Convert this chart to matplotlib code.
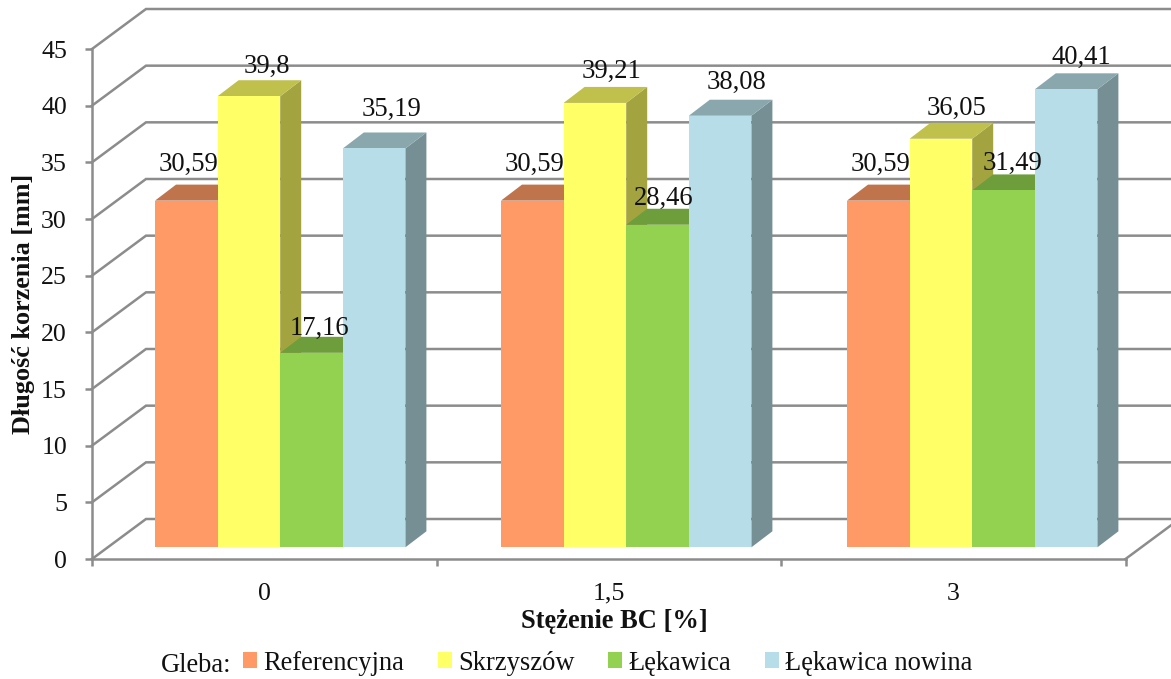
import matplotlib
matplotlib.use("Agg")
import matplotlib.pyplot as plt
from matplotlib.patches import Polygon, Patch
from matplotlib.ticker import FixedLocator, NullFormatter, FixedFormatter

# ---- data ----
categories = ["0", "1,5", "3"]
series_names = ["Referencyjna", "Skrzyszów", "Łękawica", "Łękawica nowina"]
referencyjna = [30.59, 30.59, 30.59]
skrzyszow = [39.8, 39.21, 36.05]
lekawica = [17.16, 28.46, 31.49]
lekawica_nowina = [35.19, 38.08, 40.41]
y_ticks = [0, 5, 10, 15, 20, 25, 30, 35, 40, 45]

series = [referencyjna, skrzyszow, lekawica, lekawica_nowina]
value_labels = [["30,59", "30,59", "30,59"],
                ["39,8", "39,21", "36,05"],
                ["17,16", "28,46", "31,49"],
                ["35,19", "38,08", "40,41"]]

# ---- style ----
W, H, DPI = 1171, 679, 100
FONT = "Liberation Serif"
plt.rcParams["font.family"] = FONT
GRID = "#8c8c8c"
LW = 1.8
TEXT = "#111111"
front = ["#FF9966", "#FFFF66", "#92D250", "#B7DEE8"]
top = ["#C0744C", "#C0C04D", "#6E9E3C", "#8AA7AE"]
side = ["#A3623F", "#A3A33F", "#5D8633", "#758F95"]

AX_L, AX_R, AX_T, AX_B = 92, 1125.5, 49, 559
PX_X = (AX_R - AX_L) / 3
PX_Y = (AX_B - AX_T) / 45
WALL_DX, WALL_DY = 54 / PX_X, 40 / PX_Y
BAR_DX, BAR_DY = 21 / PX_X, 16 / PX_Y
FLOOR = 11.7 / PX_Y
BAR_W = 62.6 / PX_X
GROUP_START = [63 / PX_X, 409 / PX_X, 755 / PX_X]

# label offsets from the bar's front-top centre, in pixels (dx, baseline rise)
label_off = [[(2, 29.5), (2, 29.5), (2, 29.5)],
             [(17.5, 23), (17, 25), (16, 23.5)],
             [(7.5, 18), (6, 20), (9, 21)],
             [(17, 33), (16, 27), (15.5, 25)]]

fig = plt.figure(figsize=(W / DPI, H / DPI), dpi=DPI, facecolor="white")
ax = fig.add_axes([AX_L / W, 1 - AX_B / H, (AX_R - AX_L) / W, (AX_B - AX_T) / H])
ax.set_xlim(0, 3)
ax.set_ylim(0, 45)
ax.patch.set_visible(False)
for s in ("top", "right"):
    ax.spines[s].set_visible(False)
for s in ("left", "bottom"):
    ax.spines[s].set_color(GRID)
    ax.spines[s].set_linewidth(LW)

# 3D wall gridlines
for v in y_ticks:
    ax.plot([0, WALL_DX, 3 + WALL_DX], [v, v + WALL_DY, v + WALL_DY],
            color=GRID, lw=LW, clip_on=False, zorder=1, solid_joinstyle="miter")
ax.plot([3, 3 + WALL_DX], [0, WALL_DY], color=GRID, lw=LW, clip_on=False, zorder=1)

# 3D bars
z = 2
for g, g0 in enumerate(GROUP_START):
    for k, vals in enumerate(series):
        v = vals[g]
        x0 = g0 + k * BAR_W
        x1 = x0 + BAR_W
        y0 = FLOOR
        y1 = FLOOR + v
        ax.bar(x0, v, width=BAR_W, bottom=FLOOR, align="edge", color=front[k],
               linewidth=0, clip_on=False, zorder=z + 0.2)
        ax.add_patch(Polygon([(x1, y0), (x1 + BAR_DX, y0 + BAR_DY), (x1 + BAR_DX, y1 + BAR_DY), (x1, y1)],
                             closed=True, facecolor=side[k], edgecolor="none", clip_on=False, zorder=z))
        ax.add_patch(Polygon([(x0, y1), (x1, y1), (x1 + BAR_DX, y1 + BAR_DY), (x0 + BAR_DX, y1 + BAR_DY)],
                             closed=True, facecolor=top[k], edgecolor="none", clip_on=False, zorder=z + 0.1))
        z += 1

# value labels
for k, vals in enumerate(series):
    for g, v in enumerate(vals):
        dx, dy = label_off[k][g]
        ax.annotate(value_labels[k][g],
                    xy=(GROUP_START[g] + (k + 0.5) * BAR_W, FLOOR + v),
                    xytext=(dx * 72 / DPI, dy * 72 / DPI), textcoords="offset points",
                    ha="center", va="baseline", fontsize=19.2, color=TEXT,
                    annotation_clip=False, zorder=100)

# axes ticks and labels
ax.set_yticks(y_ticks)
ax.tick_params(axis="y", which="major", length=5, width=LW, color=GRID, labelsize=18.6, pad=13, labelcolor=TEXT)
ax.xaxis.set_major_locator(FixedLocator([0, 1, 2, 3]))
ax.xaxis.set_major_formatter(NullFormatter())
ax.xaxis.set_minor_locator(FixedLocator([0.5, 1.5, 2.5]))
ax.xaxis.set_minor_formatter(FixedFormatter(categories))
ax.tick_params(axis="x", which="major", length=5, width=LW, color=GRID)
ax.tick_params(axis="x", which="minor", length=0, labelsize=18.6, pad=17, labelcolor=TEXT)

ax.set_xlabel("Stężenie BC [%]", fontsize=19.1, fontweight="bold", color=TEXT)
ax.xaxis.set_label_coords((614 - AX_L) / (AX_R - AX_L), -(621 - AX_B) / (AX_B - AX_T), ax.transAxes)
ax.xaxis.label.set_va("center")
ax.set_ylabel("Długość korzenia [mm]", fontsize=18.8, fontweight="bold", color=TEXT)
ax.yaxis.set_label_coords(-(AX_L - 23.5) / (AX_R - AX_L), (AX_B - 304) / (AX_B - AX_T), ax.transAxes)
ax.yaxis.label.set_va("center")

# legend
handles = [Patch(facecolor=c, edgecolor="none", label=n) for c, n in zip(front, series_names)]
fig.legend(handles=handles, ncol=4, frameon=False, fontsize=19.1,
           loc="center left", bbox_to_anchor=(232 / W, 1 - 663 / H),
           handlelength=0.53, handleheight=0.53, handletextpad=0.23,
           columnspacing=1.28, borderpad=0.4, borderaxespad=0, labelcolor=TEXT)
fig.text(161 / W, 1 - 672 / H, "Gleba:", fontsize=19.1, ha="left", va="baseline", color=TEXT)

fig.savefig("out.png", dpi=DPI, facecolor="white")
